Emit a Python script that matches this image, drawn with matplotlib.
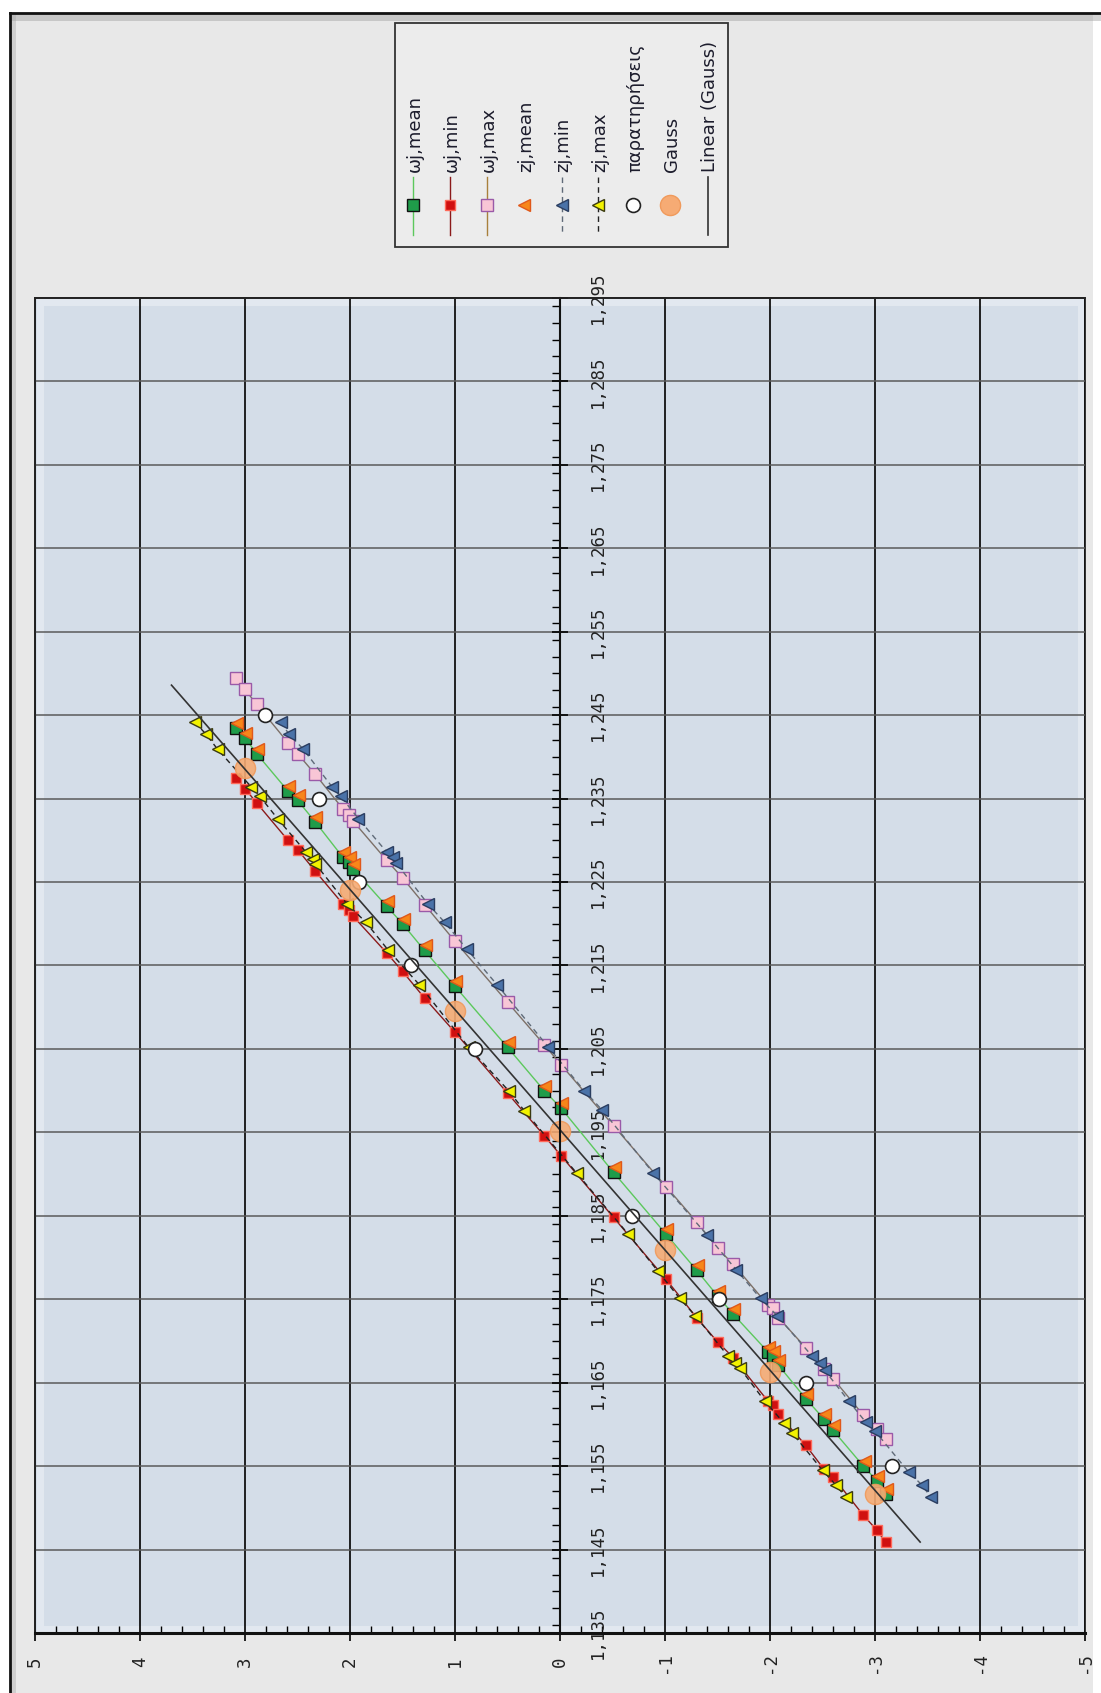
import matplotlib
matplotlib.use('Agg')
import matplotlib.pyplot as plt
from matplotlib.patches import Rectangle
from matplotlib.ticker import FixedLocator, MultipleLocator

# ---- data ----
# quantile (z) shared by the three omega series
omega_y = [3.09, 3.00, 2.89, 2.59, 2.50, 2.33, 2.07, 2.01, 1.97, 1.65, 1.50, 1.29, 1.00, 0.50, 0.15,
           -0.01, -0.51, -1.01, -1.30, -1.50, -1.65, -1.98, -2.03, -2.08, -2.34, -2.51, -2.60, -2.89, -3.02, -3.10]
omega_mean_x = [1.2435, 1.2423, 1.2404, 1.2359, 1.2348, 1.2322, 1.2280, 1.2274, 1.2266, 1.2221, 1.2200, 1.2168,
                1.2125, 1.2052, 1.2000, 1.1979, 1.1902, 1.1828, 1.1785, 1.1754, 1.1732, 1.1687, 1.1682, 1.1671,
                1.1631, 1.1607, 1.1593, 1.1550, 1.1532, 1.1517]
omega_min_x = [1.2375, 1.2362, 1.2345, 1.2300, 1.2289, 1.2263, 1.2224, 1.2216, 1.2209, 1.2165, 1.2143, 1.2111,
               1.2070, 1.1997, 1.1946, 1.1922, 1.1848, 1.1774, 1.1728, 1.1699, 1.1680, 1.1628, 1.1623, 1.1612,
               1.1575, 1.1547, 1.1537, 1.1491, 1.1473, 1.1459]
omega_max_x = [1.2494, 1.2481, 1.2463, 1.2417, 1.2404, 1.2379, 1.2338, 1.2330, 1.2323, 1.2276, 1.2255, 1.2223,
               1.2179, 1.2106, 1.2055, 1.2031, 1.1958, 1.1885, 1.1843, 1.1811, 1.1792, 1.1743, 1.1739, 1.1728,
               1.1692, 1.1667, 1.1655, 1.1611, 1.1594, 1.1582]

zj_mean_y = [3.08, 2.99, 2.88, 2.58, 2.49, 2.32, 2.06, 2.00, 1.96, 1.64, 1.49, 1.28, 0.99, 0.49, 0.14,
             -0.02, -0.52, -1.02, -1.31, -1.51, -1.66, -1.99, -2.04, -2.09, -2.35, -2.52, -2.61, -2.90, -3.03, -3.11]
zj_mean_x = [1.2441, 1.2429, 1.2410, 1.2365, 1.2354, 1.2328, 1.2286, 1.2280, 1.2272, 1.2227, 1.2206, 1.2174,
             1.2131, 1.2058, 1.2006, 1.1985, 1.1908, 1.1834, 1.1791, 1.1760, 1.1738, 1.1693, 1.1688, 1.1677,
             1.1637, 1.1613, 1.1599, 1.1556, 1.1538, 1.1523]

zj_min_y = [2.66, 2.58, 2.45, 2.17, 2.09, 1.92, 1.65, 1.59, 1.56, 1.26, 1.10, 0.89, 0.60, 0.11, -0.23,
            -0.40, -0.89, -1.40, -1.68, -1.91, -2.07, -2.40, -2.48, -2.52, -2.75, -2.91, -3.00, -3.32, -3.45, -3.53]
zj_min_x = [1.2442, 1.2427, 1.2410, 1.2364, 1.2353, 1.2326, 1.2286, 1.2280, 1.2273, 1.2224, 1.2202, 1.2170,
            1.2127, 1.2052, 1.2000, 1.1977, 1.1901, 1.1827, 1.1785, 1.1751, 1.1730, 1.1682, 1.1673, 1.1665,
            1.1628, 1.1603, 1.1592, 1.1543, 1.1527, 1.1513]

zj_max_y = [3.48, 3.37, 3.26, 2.94, 2.86, 2.69, 2.42, 2.35, 2.33, 2.03, 1.85, 1.64, 1.34, 0.87, 0.49,
            0.34, -0.16, -0.65, -0.93, -1.14, -1.29, -1.60, -1.67, -1.71, -1.95, -2.13, -2.21, -2.50, -2.63, -2.72]
zj_max_x = [1.2442, 1.2427, 1.2409, 1.2364, 1.2353, 1.2326, 1.2286, 1.2278, 1.2272, 1.2224, 1.2202, 1.2169,
            1.2127, 1.2052, 1.2000, 1.1976, 1.1901, 1.1828, 1.1784, 1.1751, 1.1730, 1.1682, 1.1673, 1.1668,
            1.1628, 1.1602, 1.1590, 1.1545, 1.1527, 1.1513]

# παρατηρήσεις
obs_y = [2.81, 2.30, 1.91, 1.42, 0.81, -0.69, -1.51, -2.34, -3.16]
obs_x = [1.245, 1.235, 1.225, 1.215, 1.205, 1.185, 1.175, 1.165, 1.155]

# Gauss
gauss_y = [3, 2, 1, 0, -1, -2, -3]
gauss_x = [1.2387, 1.2241, 1.2096, 1.1952, 1.1809, 1.1663, 1.1517]

# Linear (Gauss) end points
lin_y = [3.70, -3.43]
lin_x = [1.2486, 1.1459]

y_ticks = [5, 4, 3, 2, 1, 0, -1, -2, -3, -4, -5]
y_tick_labels = ['5', '4', '3', '2', '1', '0', '-1', '-2', '-3', '-4', '-5']
x_ticks = [1.135, 1.145, 1.155, 1.165, 1.175, 1.185, 1.195, 1.205, 1.215, 1.225, 1.235, 1.245,
           1.255, 1.265, 1.275, 1.285, 1.295]
x_tick_labels = ['1,135', '1,145', '1,155', '1,165', '1,175', '1,185', '1,195', '1,205', '1,215',
                 '1,225', '1,235', '1,245', '1,255', '1,265', '1,275', '1,285', '1,295']

legend_labels = ['ωj,mean', 'ωj,min', 'ωj,max', 'zj,mean', 'zj,min', 'zj,max',
                 'παρατηρήσεις', 'Gauss', 'Linear (Gauss)']

# ---- styles ----
st_mean = dict(color='#5cc85c', lw=1, marker='s', ms=8.5, mfc='#1f9c4a', mec='#111111', mew=1)
st_min = dict(color='#8b1a1a', lw=1, marker='s', ms=7.5, mfc='#d01010', mec='#ff6a5a', mew=1)
st_max = dict(color='#7d7068', lw=1, marker='s', ms=8, mfc='#f8c6d6', mec='#9a5aa8', mew=1)
st_zmean = dict(ls='none', marker='<', ms=8, mfc='#f7861a', mec='#e0581a', mew=1)
st_zmin = dict(color='#5f6a78', lw=1, ls=(0, (4, 3)), marker='<', ms=8.5, mfc='#4a72a8', mec='#2a3d60', mew=1)
st_zmax = dict(color='#222222', lw=1, ls=(0, (4, 3)), marker='<', ms=8.5, mfc='#f2f200', mec='#3a3a10', mew=1)
st_obs = dict(ls='none', marker='o', ms=10, mfc='white', mec='#222222', mew=1.2)
st_gauss = dict(ls='none', marker='o', ms=14.5, mfc='#f6ab74', mec='#f09a5c', mew=1)
st_lin = dict(color='#333333', lw=1.2)

W, H = 1101, 1693
fig = plt.figure(figsize=(W / 100, H / 100), dpi=100, facecolor='white')

# background, frame and legend drawn in pixel coordinates
bg = fig.add_axes([0, 0, 1, 1], zorder=0)
bg.set_xlim(0, W)
bg.set_ylim(H, 0)
bg.axis('off')
bg.add_patch(Rectangle((10, 13), 1083, H - 13, facecolor='#e8e8e8', edgecolor='none'))
bg.add_patch(Rectangle((11, 14), W - 11, 7, facecolor='#a0a0a0', alpha=0.45, edgecolor='none'))
bg.add_patch(Rectangle((11, 14), 5, H - 14, facecolor='#a0a0a0', alpha=0.35, edgecolor='none'))
bg.plot([10, 10], [13, H], color='#111111', lw=2)
bg.plot([10, W], [13, 13], color='#111111', lw=2)

# legend box
bg.add_patch(Rectangle((395, 23), 333, 224, facecolor='#ececec', edgecolor='#333333', lw=1.3))
leg_x = [412.7, 450, 486.7, 524.3, 561.7, 598.3, 633.3, 670, 708.3]
leg_styles = [st_mean, st_min, dict(st_max, color='#a8803c'), st_zmean, st_zmin, st_zmax, st_obs,
              st_gauss, st_lin]
for lx, lab, st in zip(leg_x, legend_labels, leg_styles):
    line_st = dict(st)
    line_st.pop('marker', None)
    for k in ('ms', 'mfc', 'mec', 'mew'):
        line_st.pop(k, None)
    if line_st.get('ls', '-') != 'none':
        bg.plot([lx, lx], [177, 235], **line_st)
    if 'marker' in st:
        mk = dict(st)
        mk['ls'] = 'none'
        mk.pop('lw', None)
        mk.pop('color', None)
        bg.plot([lx], [205], **mk)
    bg.text(lx + 2, 172, lab, rotation=90, ha='center', va='bottom', fontsize=13,
            family='DejaVu Sans', color='#1c1c2c')

# ---- main plot ----
ax = fig.add_axes([35 / W, (H - 1633) / H, 1050 / W, 1335 / H], zorder=1)
ax.set_facecolor('#d4dde8')
ax.set_xlim(5, -5)
ax.set_ylim(1.135, 1.295)
ax.set_axisbelow(True)

ax.xaxis.set_major_locator(FixedLocator(y_ticks))
ax.set_xticklabels(y_tick_labels, rotation=90, family='DejaVu Sans Mono', fontsize=12.5, color='#222222')
ax.xaxis.set_minor_locator(MultipleLocator(0.2))
ax.tick_params(axis='x', which='major', direction='out', length=6, width=1.2, pad=15)
ax.tick_params(axis='x', which='minor', direction='in', length=5, width=1)
for t in ax.get_xticklabels():
    t.set_va('center')

ax.spines['right'].set_position(('data', 0))
ax.yaxis.set_ticks_position('right')
ax.yaxis.set_major_locator(FixedLocator(x_ticks))
ax.set_yticklabels(x_tick_labels, rotation=90, family='DejaVu Sans Mono', fontsize=12.5, color='#222222')
ax.yaxis.set_minor_locator(MultipleLocator(0.002))
ax.tick_params(axis='y', which='major', direction='inout', length=12, width=1.2, pad=21)
ax.tick_params(axis='y', which='minor', direction='in', length=6, width=1)
for t in ax.get_yticklabels():
    t.set_ha('center')
    t.set_va('center')

ax.grid(which='major', axis='x', color='#111111', lw=1.3)
ax.grid(which='major', axis='y', color='#5a5a5a', lw=1.1)

ax.spines['bottom'].set_linewidth(2.2)
ax.spines['bottom'].set_color('#111111')
ax.spines['right'].set_linewidth(1.5)
ax.spines['right'].set_color('#111111')
for s in ('left', 'top'):
    ax.spines[s].set_color('#222222')
    ax.spines[s].set_linewidth(1.3)
ax.add_patch(Rectangle((0, 0), 1, 1, transform=ax.transAxes, fill=False, edgecolor='#222222',
                       lw=1.3, clip_on=False, zorder=0.5))
# soft bevel on the plot area edges
ax.add_patch(Rectangle((40, 302), 1041, 1327, transform=bg.transData, fill=False, edgecolor='white',
                       lw=5, alpha=0.35, zorder=0.4))

ax.plot(omega_y, omega_mean_x, **st_mean)
ax.plot(omega_y, omega_min_x, **st_min)
ax.plot(omega_y, omega_max_x, **st_max)
ax.plot(zj_mean_y, zj_mean_x, **st_zmean)
ax.plot(zj_min_y, zj_min_x, **st_zmin)
ax.plot(zj_max_y, zj_max_x, **st_zmax)
ax.plot(obs_y, obs_x, **st_obs)
ax.plot(gauss_y, gauss_x, alpha=0.9, **st_gauss)
ax.plot(lin_y, lin_x, **st_lin)

fig.savefig('out.png', dpi=100, facecolor=fig.get_facecolor())
